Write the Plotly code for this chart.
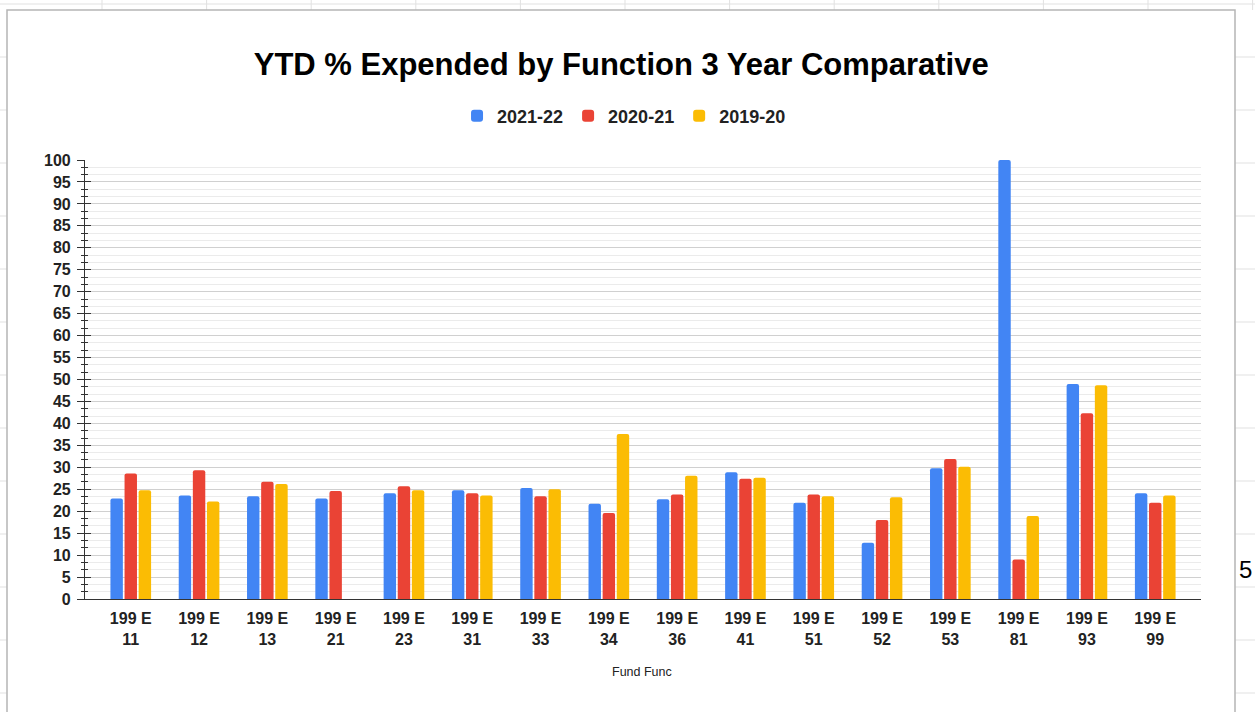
import plotly.graph_objects as go

categories = ["199 E<br>11", "199 E<br>12", "199 E<br>13", "199 E<br>21", "199 E<br>23",
              "199 E<br>31", "199 E<br>33", "199 E<br>34", "199 E<br>36", "199 E<br>41",
              "199 E<br>51", "199 E<br>52", "199 E<br>53", "199 E<br>81", "199 E<br>93",
              "199 E<br>99"]
y2021_22 = [22.9, 23.6, 23.4, 22.9, 24.1, 24.8, 25.3, 21.7, 22.7, 28.9, 21.9, 12.8, 29.8, 100.0, 49.0, 24.1]
y2020_21 = [28.6, 29.3, 26.7, 24.6, 25.7, 24.1, 23.4, 19.6, 23.8, 27.4, 23.8, 18.0, 31.9, 9.0, 42.3, 21.9]
y2019_20 = [24.8, 22.2, 26.2, 0.0, 24.8, 23.6, 25.0, 37.6, 28.1, 27.6, 23.4, 23.2, 30.1, 18.9, 48.7, 23.6]
series_names = ["2021-22", "2020-21", "2019-20"]
colors = ["#4285F4", "#EA4335", "#FBBC04"]

W, H = 1255, 712
L, R, T, B = 85, 54, 160, 113
PW, PH = W - L - R, H - T - B

def px(x):
    return (x - L) / PW

def py(y):
    return (H - B - y) / PH

FONT = "Liberation Sans, Arial, sans-serif"

fig = go.Figure()
for name, vals, col in zip(series_names, [y2021_22, y2020_21, y2019_20], colors):
    fig.add_trace(go.Bar(x=categories, y=vals, name=name, marker=dict(color=col, line=dict(width=0))))

# helper trace for crossing ticks on overlay axis
fig.add_trace(go.Scatter(x=[categories[0]], y=[0], yaxis="y2", mode="markers",
                         marker=dict(opacity=0), showlegend=False, hoverinfo="skip"))

shapes = []
grid_col = "#e1e1e1"
# spreadsheet row lines (outside chart frame)
for k in range(0, 14):
    yy = 4 + 53 * k
    if k == 0:
        shapes.append(dict(type="line", xref="paper", yref="paper", x0=px(0), x1=px(W), y0=py(yy), y1=py(yy),
                           line=dict(color=grid_col, width=1), layer="below"))
    else:
        shapes.append(dict(type="line", xref="paper", yref="paper", x0=px(0), x1=px(7), y0=py(yy), y1=py(yy),
                           line=dict(color=grid_col, width=1), layer="below"))
        shapes.append(dict(type="line", xref="paper", yref="paper", x0=px(1235), x1=px(W), y0=py(yy), y1=py(yy),
                           line=dict(color=grid_col, width=1), layer="below"))
for k in range(0, 12):
    xx = 102 + 104.6 * k
    shapes.append(dict(type="line", xref="paper", yref="paper", x0=px(xx), x1=px(xx), y0=py(0), y1=py(10),
                       line=dict(color=grid_col, width=1), layer="below"))
# chart frame
shapes.append(dict(type="rect", xref="paper", yref="paper", x0=px(7), x1=px(1235), y0=py(10), y1=py(730),
                   line=dict(color="#b5b5b5", width=1.5), fillcolor="rgba(0,0,0,0)", layer="below"))

fig.update_layout(
    width=W, height=H,
    margin=dict(l=L, r=R, t=T, b=B, pad=0),
    paper_bgcolor="white", plot_bgcolor="white",
    barmode="group", bargap=0.38, bargroupgap=0.12, barcornerradius=2,
    font=dict(family=FONT, color="#222222"),
    title=dict(text="YTD % Expended by Function 3 Year Comparative", x=0.495, xanchor="center",
               yref="container", y=1 - 64 / H, yanchor="middle",
               font=dict(size=31, family=FONT, color="#000000", weight="bold")),
    legend=dict(orientation="h", x=0.483, xanchor="center", y=py(116), yanchor="middle",
                font=dict(size=18, family=FONT, color="#222222", weight="bold"),
                itemwidth=30, traceorder="normal", bgcolor="rgba(0,0,0,0)"),
    xaxis=dict(type="category", range=[-0.67, 15.67], showgrid=False, ticks="",
               showline=True, linecolor="#333333", linewidth=1.2,
               ticklabelstandoff=5,
               tickfont=dict(size=16, family=FONT, color="#222222", weight="bold"),
               fixedrange=True),
    yaxis=dict(range=[0, 100], dtick=5, tick0=0, showgrid=True, gridcolor="#d0d0d0", gridwidth=1,
               zeroline=True, zerolinecolor="#333333", zerolinewidth=1.2,
               showline=True, linecolor="#333333", linewidth=1.2,
               ticks="outside", ticklen=7, tickcolor="#333333", tickwidth=1.2,
               ticklabelstandoff=3,
               tickfont=dict(size=16, family=FONT, color="#222222", weight="bold"),
               minor=dict(dtick=5 / 3, tick0=0, showgrid=True, gridcolor="#ebebeb", gridwidth=1,
                          ticks="outside", ticklen=3, tickcolor="#333333", tickwidth=1),
               fixedrange=True),
    yaxis2=dict(range=[0, 100], dtick=5, tick0=0, overlaying="y", side="left", anchor="x",
                showgrid=False, zeroline=False, showticklabels=False, showline=False,
                ticks="inside", ticklen=6, tickcolor="#333333", tickwidth=1.2,
                minor=dict(dtick=5 / 3, tick0=0, showgrid=False, ticks="inside", ticklen=3,
                           tickcolor="#333333", tickwidth=1),
                fixedrange=True),
    shapes=shapes,
    annotations=[
        dict(text="Fund Func", xref="paper", yref="paper", x=px(642), y=py(672), showarrow=False,
             xanchor="center", yanchor="middle", font=dict(size=12.5, family=FONT, color="#222222")),
        dict(text="5", xref="paper", yref="paper", x=px(1254), y=py(569), showarrow=False,
             xanchor="right", yanchor="middle", font=dict(size=24, family=FONT, color="#000000")),
    ],
)

fig.write_html("out.html", config={"displayModeBar": False},
               post_script="document.body.style.margin='0';document.body.style.overflow='hidden';")
